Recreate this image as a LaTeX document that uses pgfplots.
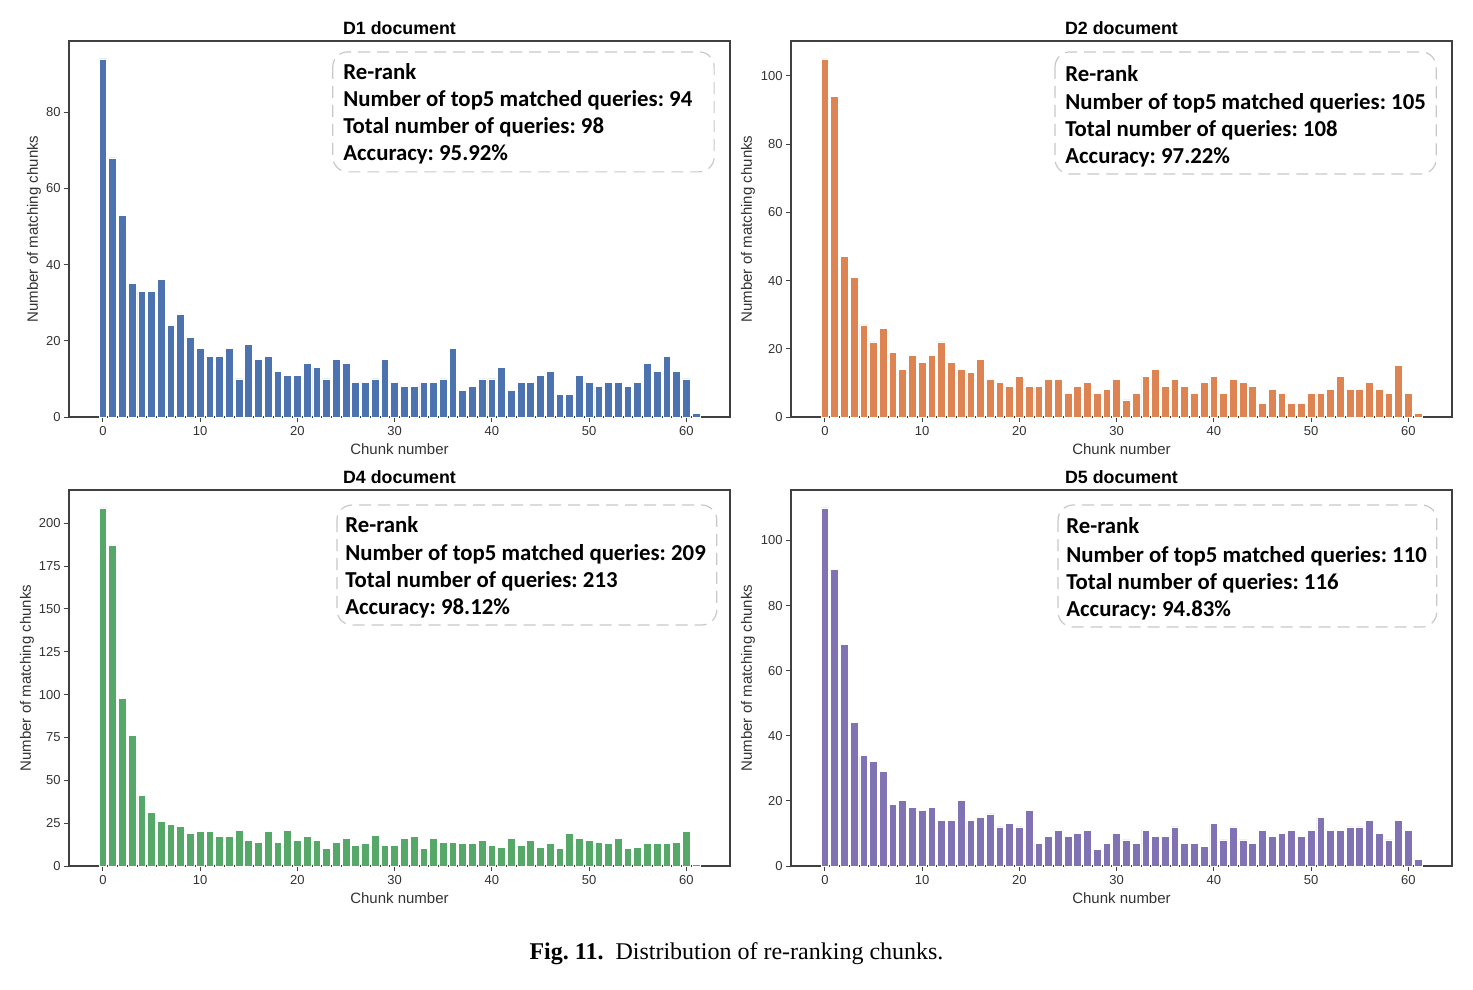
\documentclass[border=0pt]{standalone}
\usepackage{fontspec}
\setmainfont{Liberation Sans}
\newfontfamily\boxfont{Carlito}
\newfontfamily\capfont{Liberation Serif}
\usepackage{pgfplots}
\pgfplotsset{compat=1.18}
\definecolor{cA}{HTML}{4C72B0}
\definecolor{cB}{HTML}{DD8452}
\definecolor{cC}{HTML}{55A868}
\definecolor{cD}{HTML}{8172B3}
\definecolor{boxgray}{HTML}{C8C8C8}
\pgfplotsset{panel/.style={
  scale only axis, width=330.5pt, height=188pt,
  xmin=-3.49, xmax=64.49, ymin=0,
  xtick={0,10,...,60},
  axis line style={black!75, line width=0.6pt},
  xtick pos=left, ytick pos=left,
  tick align=outside, major tick length=2.5pt,
  tick style={black!75, line width=0.5pt},
  ticklabel style={font=\fontsize{6.5}{7}\selectfont, text=black!80},
  /pgf/number format/assume math mode=true,
  xticklabel style={anchor=base, yshift=-6.75pt},
  yticklabel style={anchor=east, inner sep=0pt, xshift=-1.5pt},
  label style={font=\fontsize{7.5}{9}\selectfont, text=black!80},
  title style={font=\fontsize{8.9}{10}\selectfont\bfseries, at={(0.5,1)}, anchor=base, yshift=-2.6pt},
  xlabel={Chunk number}, ylabel={Number of matching chunks},
  xlabel style={at={(axis description cs:0.5,0)}, anchor=base, yshift=-18.8pt},
}}
\tikzset{
bars/.style={ybar, bar width=0.8, draw=white, line width=0.4pt, fill=#1},
infobox/.style={draw=boxgray, line width=0.6pt, dash pattern=on 6pt off 3.5pt, rounded corners=7.5pt},
infotext/.style={anchor=base west, inner sep=0pt, font=\boxfont\bfseries\fontsize{11.4}{13.5}\selectfont}
}
\begin{document}
\frenchspacing
\begin{tikzpicture}
\useasboundingbox (0,0) rectangle (736.5pt,-495pt);
% D1
\begin{axis}[panel, at={(34.5pt,-20.5pt)}, anchor=north west, ymax=98.7,
  ytick={0,20,40,60,80}, title={D1 document},
  ylabel style={at={(axis description cs:-0.053,0.5)}, anchor=center}]
\addplot[bars=cA] coordinates {
(0,94)(1,68)(2,53)(3,35)(4,33)(5,33)(6,36)(7,24)(8,27)(9,21)
(10,18)(11,16)(12,16)(13,18)(14,10)(15,19)(16,15)(17,16)(18,12)(19,11)
(20,11)(21,14)(22,13)(23,10)(24,15)(25,14)(26,9)(27,9)(28,10)(29,15)
(30,9)(31,8)(32,8)(33,9)(34,9)(35,10)(36,18)(37,7)(38,8)(39,10)
(40,10)(41,13)(42,7)(43,9)(44,9)(45,11)(46,12)(47,6)(48,6)(49,11)
(50,9)(51,8)(52,9)(53,9)(54,8)(55,9)(56,14)(57,12)(58,16)(59,12)
(60,10)(61,1)};
\draw[infobox] (rel axis cs:0.399,0.971) rectangle (rel axis cs:0.976,0.652);
\node[infotext] at (rel axis cs:0.4145,0.8963) {Re-rank};
\node[infotext] at (rel axis cs:0.4145,0.8245) {Number of top5 matched queries: 94};
\node[infotext] at (rel axis cs:0.4145,0.7527) {Total number of queries: 98};
\node[infotext] at (rel axis cs:0.4145,0.6809) {Accuracy: 95.92\%};
\end{axis}
% D2
\begin{axis}[panel, at={(395.5pt,-20.5pt)}, anchor=north west, ymax=110.25,
  ytick={0,20,40,60,80,100}, title={D2 document},
  ylabel style={at={(axis description cs:-0.065,0.5)}, anchor=center}]
\addplot[bars=cB] coordinates {
(0,105)(1,94)(2,47)(3,41)(4,27)(5,22)(6,26)(7,19)(8,14)(9,18)
(10,16)(11,18)(12,22)(13,16)(14,14)(15,13)(16,17)(17,11)(18,10)(19,9)
(20,12)(21,9)(22,9)(23,11)(24,11)(25,7)(26,9)(27,10)(28,7)(29,8)
(30,11)(31,5)(32,7)(33,12)(34,14)(35,9)(36,11)(37,9)(38,7)(39,10)
(40,12)(41,7)(42,11)(43,10)(44,9)(45,4)(46,8)(47,7)(48,4)(49,4)
(50,7)(51,7)(52,8)(53,12)(54,8)(55,8)(56,10)(57,8)(58,7)(59,15)
(60,7)(61,1)};
\draw[infobox] (rel axis cs:0.3994,0.971) rectangle (rel axis cs:0.976,0.6463);
\node[infotext] at (rel axis cs:0.4145,0.8936) {Re-rank};
\node[infotext] at (rel axis cs:0.4145,0.8191) {Number of top5 matched queries: 105};
\node[infotext] at (rel axis cs:0.4145,0.7473) {Total number of queries: 108};
\node[infotext] at (rel axis cs:0.4145,0.6729) {Accuracy: 97.22\%};
\end{axis}
% D4
\begin{axis}[panel, at={(34.5pt,-245pt)}, anchor=north west, ymax=219.45,
  ytick={0,25,...,200}, title={D4 document},
  ylabel style={at={(axis description cs:-0.0635,0.5)}, anchor=center}]
\addplot[bars=cC] coordinates {
(0,209)(1,187)(2,98)(3,76)(4,41)(5,31)(6,26)(7,24)(8,23)(9,19)
(10,20)(11,20)(12,17)(13,17)(14,21)(15,15)(16,14)(17,20)(18,14)(19,21)
(20,15)(21,17)(22,15)(23,10)(24,14)(25,16)(26,12)(27,13)(28,18)(29,12)
(30,12)(31,16)(32,17)(33,10)(34,16)(35,14)(36,14)(37,13)(38,13)(39,15)
(40,12)(41,11)(42,16)(43,12)(44,15)(45,11)(46,13)(47,10)(48,19)(49,16)
(50,15)(51,14)(52,13)(53,16)(54,10)(55,11)(56,13)(57,13)(58,13)(59,14)
(60,20)(61,1)};
\draw[infobox] (rel axis cs:0.4054,0.960) rectangle (rel axis cs:0.980,0.641);
\node[infotext] at (rel axis cs:0.4175,0.8883) {Re-rank};
\node[infotext] at (rel axis cs:0.4175,0.8138) {Number of top5 matched queries: 209};
\node[infotext] at (rel axis cs:0.4175,0.7420) {Total number of queries: 213};
\node[infotext] at (rel axis cs:0.4175,0.6676) {Accuracy: 98.12\%};
\end{axis}
% D5
\begin{axis}[panel, at={(395.5pt,-245pt)}, anchor=north west, ymax=115.5,
  ytick={0,20,40,60,80,100}, title={D5 document},
  ylabel style={at={(axis description cs:-0.065,0.5)}, anchor=center}]
\addplot[bars=cD] coordinates {
(0,110)(1,91)(2,68)(3,44)(4,34)(5,32)(6,29)(7,19)(8,20)(9,18)
(10,17)(11,18)(12,14)(13,14)(14,20)(15,14)(16,15)(17,16)(18,12)(19,13)
(20,12)(21,17)(22,7)(23,9)(24,11)(25,9)(26,10)(27,11)(28,5)(29,7)
(30,10)(31,8)(32,7)(33,11)(34,9)(35,9)(36,12)(37,7)(38,7)(39,6)
(40,13)(41,8)(42,12)(43,8)(44,7)(45,11)(46,9)(47,10)(48,11)(49,9)
(50,11)(51,15)(52,11)(53,11)(54,12)(55,12)(56,14)(57,10)(58,8)(59,14)
(60,11)(61,2)};
\draw[infobox] (rel axis cs:0.404,0.960) rectangle (rel axis cs:0.977,0.6356);
\node[infotext] at (rel axis cs:0.416,0.8830) {Re-rank};
\node[infotext] at (rel axis cs:0.416,0.8085) {Number of top5 matched queries: 110};
\node[infotext] at (rel axis cs:0.416,0.7367) {Total number of queries: 116};
\node[infotext] at (rel axis cs:0.416,0.6649) {Accuracy: 94.83\%};
\end{axis}
\node[anchor=base, inner sep=0pt] at (368.25pt,-479.5pt) {\capfont\fontsize{12}{14}\selectfont\textbf{Fig. 11.}\ \ Distribution of re-ranking chunks.};
\end{tikzpicture}
\end{document}
